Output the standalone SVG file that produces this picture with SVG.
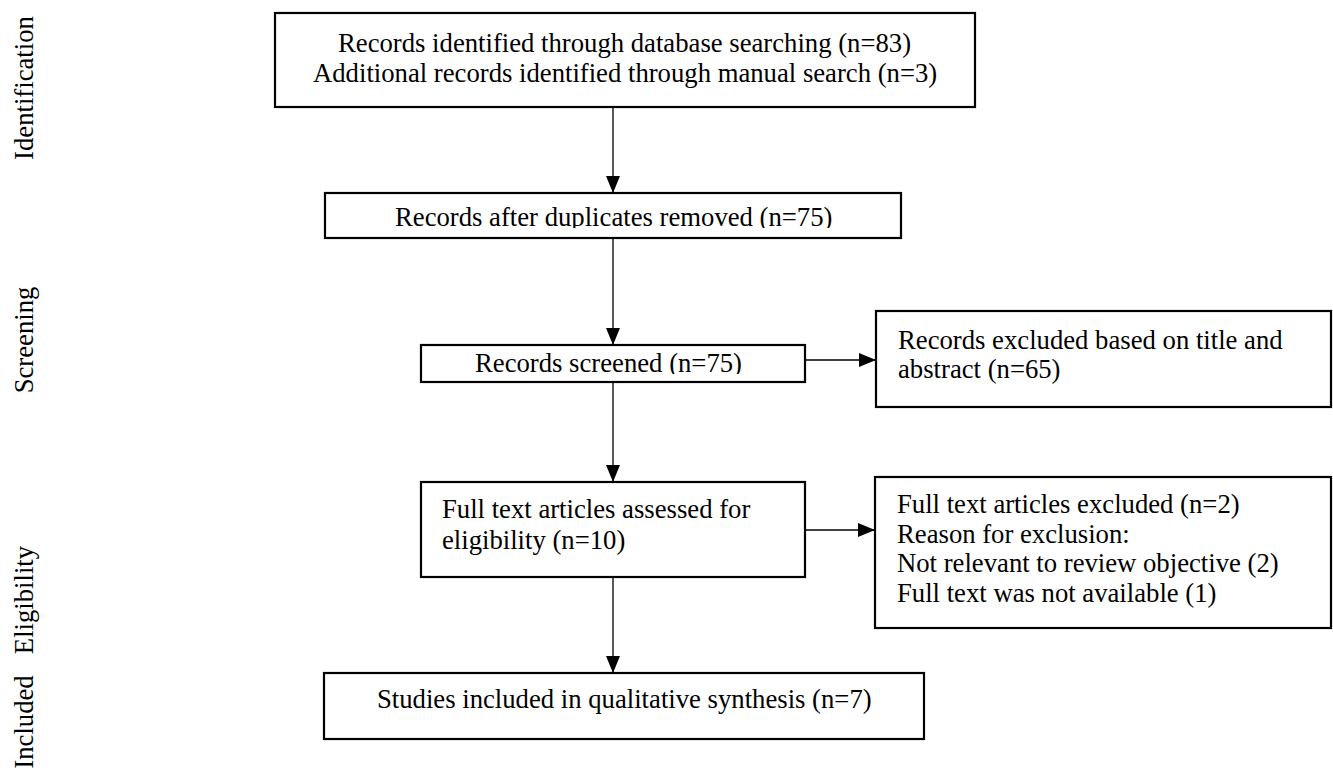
<svg xmlns="http://www.w3.org/2000/svg" width="1333" height="774" viewBox="0 0 1333 774">
  <style>
    .box { fill: #ffffff; stroke: #000000; stroke-width: 2.2; }
    .t { font-family: "Liberation Serif", "Times New Roman", serif; font-size: 26.7px; fill: #000000; }
    .lab { font-family: "Liberation Serif", "Times New Roman", serif; font-size: 26.7px; fill: #000000; text-anchor: middle; }
    .conn { stroke: #000000; stroke-width: 1.3; fill: none; }
  </style>
  <defs>
    <marker id="arrow" viewBox="0 0 14 17" refX="14" refY="7" markerWidth="14" markerHeight="17" markerUnits="userSpaceOnUse" orient="auto">
      <path d="M0,0 L14,7 L0,14 Z" fill="#000000"/>
    </marker>
    <marker id="arrowV" viewBox="0 0 17 14" refX="17" refY="7" markerWidth="17" markerHeight="14" markerUnits="userSpaceOnUse" orient="auto">
      <path d="M0,0 L17,7 L0,14 Z" fill="#000000"/>
    </marker>
    <clipPath id="clip2"><rect x="326" y="194" width="574" height="34"/></clipPath>
    <clipPath id="clip3"><rect x="422" y="346" width="382" height="28"/></clipPath>
  </defs>
  <rect x="0" y="0" width="1333" height="774" fill="#ffffff"/>

  <g id="phase-labels">
    <text class="lab" transform="translate(33,88) rotate(-90)">Identification</text>
    <text class="lab" transform="translate(33,340) rotate(-90)">Screening</text>
    <text class="lab" transform="translate(33,600) rotate(-90)">Eligibility</text>
    <text class="lab" transform="translate(33,722) rotate(-90)">Included</text>
  </g>

  <g id="connectors">
    <line class="conn" x1="613" y1="107" x2="613" y2="193" marker-end="url(#arrowV)"/>
    <line class="conn" x1="613" y1="238" x2="613" y2="345" marker-end="url(#arrowV)"/>
    <line class="conn" x1="613" y1="382" x2="613" y2="482" marker-end="url(#arrowV)"/>
    <line class="conn" x1="613" y1="577" x2="613" y2="673" marker-end="url(#arrowV)"/>
    <line class="conn" x1="805" y1="360" x2="876" y2="360" marker-end="url(#arrowV)"/>
    <line class="conn" x1="805" y1="530" x2="875" y2="530" marker-end="url(#arrowV)"/>
  </g>

  <g id="n1">
    <rect class="box" x="275" y="13" width="700" height="94"/>
    <text class="t" x="338" y="52">Records identified through database searching (n=83)</text>
    <text class="t" x="313" y="82">Additional records identified through manual search (n=3)</text>
  </g>

  <g id="n2">
    <rect class="box" x="325" y="193" width="576" height="45"/>
    <text class="t" x="395" y="226" clip-path="url(#clip2)">Records after duplicates removed (n=75)</text>
  </g>

  <g id="n3">
    <rect class="box" x="421" y="345" width="384" height="37"/>
    <text class="t" x="475" y="372" clip-path="url(#clip3)">Records screened (n=75)</text>
  </g>

  <g id="n4">
    <rect class="box" x="876" y="311" width="455" height="96"/>
    <text class="t" x="898" y="349">Records excluded based on title and</text>
    <text class="t" x="898" y="378">abstract (n=65)</text>
  </g>

  <g id="n5">
    <rect class="box" x="421" y="482" width="384" height="95"/>
    <text class="t" x="442" y="518">Full text articles assessed for</text>
    <text class="t" x="442" y="549">eligibility (n=10)</text>
  </g>

  <g id="n6">
    <rect class="box" x="875" y="477" width="456" height="151"/>
    <text class="t" x="897" y="513">Full text articles excluded (n=2)</text>
    <text class="t" x="897" y="543">Reason for exclusion:</text>
    <text class="t" x="897" y="572">Not relevant to review objective (2)</text>
    <text class="t" x="897" y="602">Full text was not available (1)</text>
  </g>

  <g id="n7">
    <rect class="box" x="324" y="673" width="600" height="66"/>
    <text class="t" x="377" y="708">Studies included in qualitative synthesis (n=7)</text>
  </g>
</svg>
